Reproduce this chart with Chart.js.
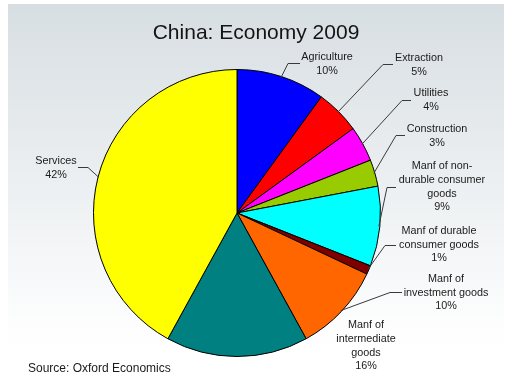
<!DOCTYPE html>
<html>
<head>
<meta charset="utf-8">
<script src="https://cdn.jsdelivr.net/npm/chart.js@4.4.0/dist/chart.umd.min.js"></script>
<style>
  html, body { margin: 0; padding: 0; background: #fff; }
  #marco { width: 505px; height: 376px; }
</style>
</head>
<body>
<div id="marco"><canvas id="grafico"></canvas></div>
<script>
const sectores = [
  ['Agriculture'],
  ['Extraction'],
  ['Utilities'],
  ['Construction'],
  ['Manf of non-', 'durable consumer', 'goods'],
  ['Manf of durable', 'consumer goods'],
  ['Manf of', 'investment goods'],
  ['Manf of', 'intermediate', 'goods'],
  ['Services']
];
const porcentajes = [10, 5, 4, 3, 9, 1, 10, 16, 42];
const colores = ['#0000ff', '#ff0000', '#ff00ff', '#99cc00', '#00ffff', '#800000', '#ff6600', '#008080', '#ffff00'];
const titulo = 'China: Economy 2009';
const fuente = 'Source: Oxford Economics';

// donde va cada etiqueta: centro x, primera linea y, codo y final de la guia
const etiquetas = [
  { x: 327, y: 57, codo: [288, 63.5], fin: [300, 63.5] },
  { x: 419, y: 58, codo: [383, 64.5], fin: [393, 64.5] },
  { x: 431, y: 93, codo: [402, 100.5], fin: [411, 100.5] },
  { x: 437, y: 129, codo: [396, 135.5], fin: [405, 135.5] },
  { x: 442, y: 166.5, codo: [387, 187.5], fin: [396, 187.5] },
  { x: 439, y: 231, codo: [385, 245.5], fin: [396, 245.5] },
  { x: 446, y: 279, codo: [390, 292.5], fin: [402, 292.5] },
  { x: 366, y: 325.5, codo: null, fin: null },
  { x: 56, y: 161.5, codo: [88, 167.5], fin: [78, 167.5] }
];

const fondo = {
  id: 'fondo',
  beforeDraw(chart) {
    const ctx = chart.ctx;
    ctx.save();
    ctx.fillStyle = '#ffffff';
    ctx.fillRect(0, 0, chart.width, chart.height);
    const g = ctx.createLinearGradient(0, 4, 0, 345);
    g.addColorStop(0, '#d7dee2');
    g.addColorStop(1, '#ffffff');
    ctx.fillStyle = g;
    ctx.fillRect(8, 4, 496, chart.height - 4);
    ctx.restore();
  }
};

const rotulos = {
  id: 'rotulos',
  afterDraw(chart) {
    const ctx = chart.ctx;
    const arcos = chart.getDatasetMeta(0).data;
    ctx.save();

    // titulo
    ctx.font = '21px "Liberation Sans", Arial, sans-serif';
    ctx.textAlign = 'center';
    ctx.textBaseline = 'alphabetic';
    ctx.fillStyle = '#141414';
    ctx.fillText(titulo, 256, 39);

    ctx.font = '10.8px "Liberation Sans", Arial, sans-serif';
    ctx.textBaseline = 'middle';
    arcos.forEach((arco, i) => {
      const p = arco.getProps(['x', 'y', 'startAngle', 'endAngle', 'outerRadius'], true);
      const et = etiquetas[i];
      if (et.codo) {
        const medio = (p.startAngle + p.endAngle) / 2;
        const r = p.outerRadius - 1;
        ctx.strokeStyle = '#3a3a3a';
        ctx.lineWidth = 1;
        ctx.beginPath();
        ctx.moveTo(p.x + Math.cos(medio) * r, p.y + Math.sin(medio) * r);
        ctx.lineTo(et.codo[0], et.codo[1]);
        ctx.lineTo(et.fin[0], et.fin[1]);
        ctx.stroke();
      }
      const lineas = sectores[i].concat([porcentajes[i] + '%']);
      ctx.fillStyle = '#1a1a1a';
      lineas.forEach((t, k) => ctx.fillText(t, et.x, et.y + k * 13.6));
    });

    ctx.font = '12px "Liberation Sans", Arial, sans-serif';
    ctx.textAlign = 'left';
    ctx.fillStyle = '#1a1a1a';
    ctx.fillText(fuente, 28, 369);
    ctx.restore();
  }
};

new Chart(document.getElementById('grafico'), {
  type: 'pie',
  data: {
    labels: sectores.map(s => s.join(' ')),
    datasets: [{
      data: porcentajes,
      backgroundColor: colores,
      borderColor: '#000000',
      borderWidth: 1
    }]
  },
  options: {
    responsive: true,
    maintainAspectRatio: false,
    animation: false,
    events: [],
    layout: { padding: { left: 93, right: 124, top: 69, bottom: 19 } },
    plugins: {
      legend: { display: false },
      tooltip: { enabled: false },
      title: { display: false }
    }
  },
  plugins: [fondo, rotulos]
});
</script>
</body>
</html>
